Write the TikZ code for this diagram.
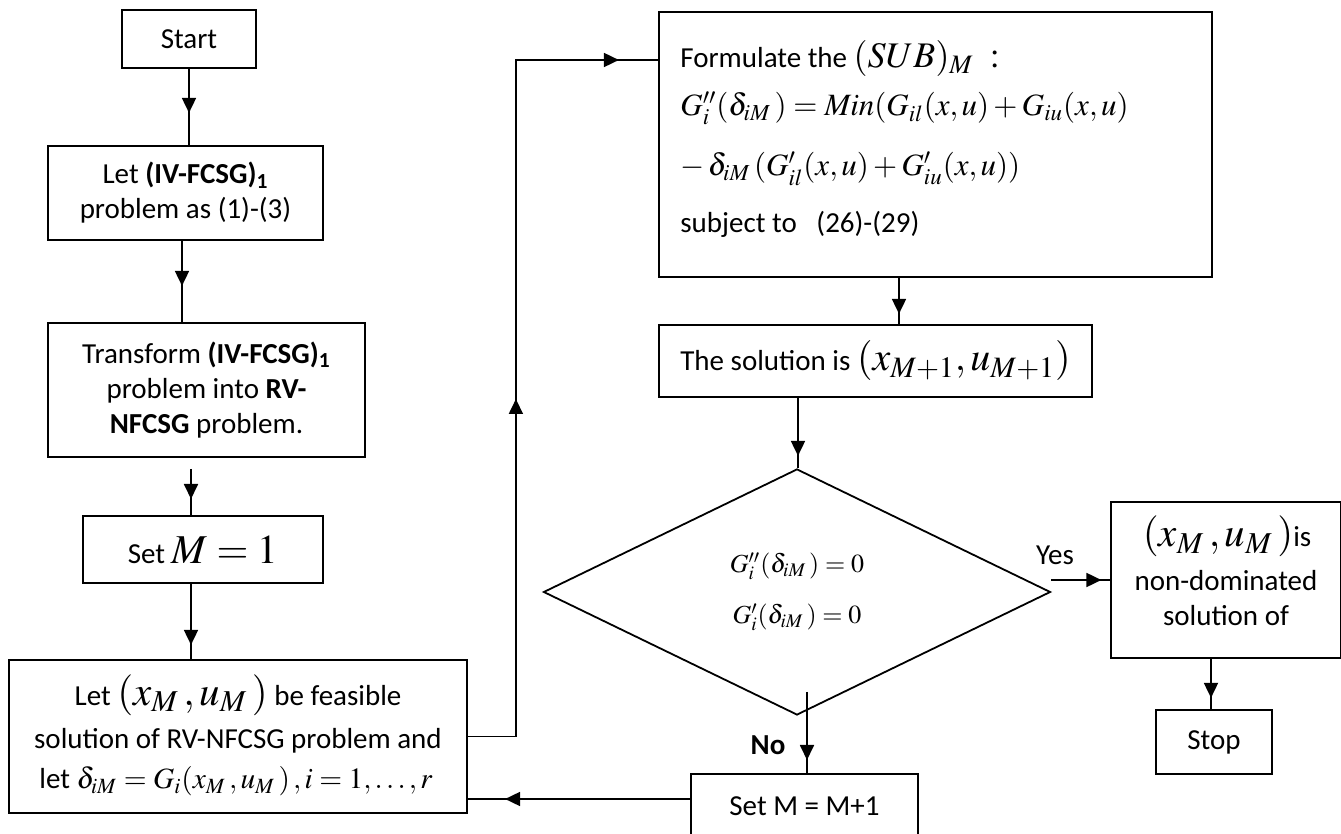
\documentclass[tikz,border=0pt]{standalone}
\usepackage{mathptmx}
\usepackage[no-math]{fontspec}
\setmainfont{Carlito}
\usetikzlibrary{shapes.geometric,arrows.meta,decorations.markings}
\newcommand{\txtf}{\fontsize{14.5}{17.5}\selectfont}
\newcommand{\mbig}{\fontsize{20.5}{20.5}\selectfont}
\newcommand{\mmid}{\fontsize{15.5}{15.5}\selectfont}
\begin{document}
\begin{tikzpicture}[x=0.5pt,y=-0.5pt,
  box/.style={draw, line width=0.9pt, inner sep=0pt, align=center, font=\txtf},
  txt/.style={inner sep=0pt, font=\txtf},
  conn/.style={line width=0.9pt},
  tipat/.style={postaction={decorate}, decoration={markings, mark=at position #1 with {\arrow{Triangle[length=7.5pt,width=7pt]}}}},
  tiptwo/.style 2 args={postaction={decorate}, decoration={markings,
     mark=at position #1 with {\arrow{Triangle[length=7.5pt,width=7pt]}},
     mark=at position #2 with {\arrow{Triangle[length=7.5pt,width=7pt]}}}}]
\useasboundingbox (0,0) rectangle (1341,834);

% left column
\node[box, minimum width=67pt, minimum height=29pt] (start) at (189,39) {Start};
\node[box, minimum width=137.5pt, minimum height=47pt] (let1) at (185.5,193)
  {Let \textbf{(IV-FCSG)\textsubscript{1}}\\problem as (1)-(3)};
\node[box, minimum width=158.5pt, minimum height=67pt] (tr) at (206.5,390)
  {Transform \textbf{(IV-FCSG)\textsubscript{1}}\\problem into \textbf{RV-}\\\textbf{NFCSG} problem.};
\node[box, minimum width=120pt, minimum height=33.5pt] (set1) at (203,549.5)
  {Set {\mbig$M=1$}};
\node[box, minimum width=229pt, minimum height=76.5pt] (letm) at (238,736.5) {};
\node[txt, anchor=base] (lm1) at (238,705) {Let {\mbig$(x_M\,,u_M\,)$} be feasible};
\node[txt, anchor=base] (lm2) at (238,748) {solution of RV-NFCSG problem and};
\node[txt, anchor=base] (lm3) at (236,789) {let {\fontsize{14.7}{14.7}\selectfont$\delta_{iM}=G_i(x_M\,,u_M\,)\,,i=1,\ldots,r$}};

% right part
\node[box, minimum width=276.5pt, minimum height=132.5pt] (fm) at (935.5,144.5) {};
\node[txt, anchor=base west] (f1) at (680,68) {Formulate the {\fontsize{18}{18}\selectfont$(SUB)_M\;:$}};
\node[txt, anchor=base west] (f2) at (680,116) {\mmid$G_i''(\delta_{iM}\,)=\mathit{Min}(G_{il}(x,u)+G_{iu}(x,u)$};
\node[txt, anchor=base west] (f3) at (680,176) {\mmid$-\,\delta_{iM}\,(G_{il}'(x,u)+G_{iu}'(x,u))$};
\node[txt, anchor=base west] (f4) at (680,233) {subject to\ \ \ (26)-(29)};

\node[box, minimum width=216.5pt, minimum height=36pt] (sol) at (875.5,361)
  {The solution is {\fontsize{20}{20}\selectfont$(x_{M+1},u_{M+1})$}};

\node[diamond, draw, line width=0.9pt, aspect=2, inner sep=0pt,
      minimum width=253.5pt, minimum height=123pt, align=center,
      font=\fontsize{13}{25.5}\selectfont] (dec) at (797,592)
  {$G_i''(\delta_{iM}\,)=0$\\$G_i'(\delta_{iM}\,)=0$};

\node[box, minimum width=115pt, minimum height=78pt] (nd) at (1226,580) {};
\node[txt, anchor=base] (n1) at (1227,547) {{\mbig$(x_M\,,u_M\,)$}is};
\node[txt, anchor=base] (n2) at (1226,591) {non-dominated};
\node[txt, anchor=base] (n3) at (1226,625) {solution of};

\node[box, minimum width=58pt, minimum height=32pt] (stop) at (1214,742) {Stop};
\node[box, minimum width=113.5pt, minimum height=32pt] (setm) at (804.5,806) {Set M = M+1};

\node[txt] (yes) at (1055,555) {Yes};
\node[txt, font=\txtf\bfseries] (no) at (768,745) {No};

\coordinate (a1) at (191,469);
\coordinate (nostart) at (807,692);

% connectors
\draw[conn, tipat=22pt] (start.south) -- (start.south |- let1.north);
\draw[conn, tipat=22.5pt] ([xshift=-1.75pt]let1.south) -- ([xshift=-1.75pt]let1.south |- tr.north);
\draw[conn, tipat=15pt] (a1) -- (a1 |- set1.north);
\draw[conn, tipat=30.5pt] ([xshift=-6pt]set1.south) -- ([xshift=-6pt]set1.south |- letm.north);
\draw[conn, tiptwo={192.75pt}{413.75pt}] (letm.east) -- ++(24pt,0) |- ([yshift=42.25pt]fm.west);
\draw[conn, tipat=18pt] ([xshift=-18.25pt]fm.south) -- ([xshift=-18.25pt]fm.south |- sol.north);
\draw[conn, tipat=29pt] ([xshift=-38.75pt]sol.south) -- ([xshift=-38.75pt]sol.south |- dec.north);
\draw[conn, tipat=25pt] (dec.east |- nd.west) -- (nd.west);
\draw[conn, tipat=19.5pt] ([xshift=-7.5pt]nd.south) -- ([xshift=-7.5pt]nd.south |- stop.north);
\draw[conn, tipat=34pt] (nostart) -- (nostart |- setm.north);
\draw[conn, tipat=92.5pt] ([yshift=3.5pt]setm.west) -- ([yshift=3.5pt]setm.west -| letm.east);
\end{tikzpicture}
\end{document}
